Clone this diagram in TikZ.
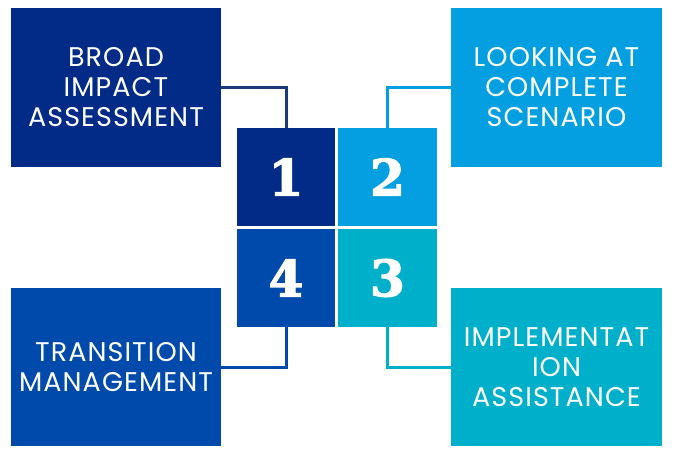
\documentclass[tikz,border=0pt]{standalone}
\usepackage{fontspec}
\newfontfamily\boxfont[LetterSpace=4]{Poppins}
\newfontfamily\numfont[FakeBold=2.5]{DejaVu Serif Bold}
\definecolor{cnavy}{HTML}{022B87}
\definecolor{csky}{HTML}{039FE0}
\definecolor{cteal}{HTML}{00AFC9}
\definecolor{cblue}{HTML}{004AAB}
\definecolor{lnavy}{HTML}{1B3A78}
\tikzset{
  bigbox/.style={draw=none, minimum width=210pt, minimum height=159pt, inner sep=0pt,
    text=white, align=center, font=\boxfont\fontsize{27}{30}\selectfont},
  numbox/.style={draw=none, minimum width=98pt, minimum height=98pt, inner sep=0pt,
    text=white, font=\numfont\fontsize{50}{50}\selectfont},
  conn/.style={line width=3pt}
}
\begin{document}
\begin{tikzpicture}[x=1pt,y=-1pt]
\useasboundingbox (0,0) rectangle (676,456);
\fill[white] (0,0) rectangle (676,456);
\node[bigbox, fill=cnavy] (b1) at (116,87.5) {BROAD\\IMPACT\\ASSESSMENT};
\node[bigbox, fill=csky, minimum width=211pt] (b2) at (556.5,87.5) {LOOKING AT\\COMPLETE\\SCENARIO};
\node[bigbox, fill=cteal, minimum width=211pt, minimum height=158pt] (b3) at (556.5,367) {IMPLEMENTAT\\ION\\ASSISTANCE};
\node[bigbox, fill=cblue, minimum height=158pt] (b4) at (116,367) {TRANSITION\\MANAGEMENT};
\node[numbox, fill=cnavy] (s1) at (286,177) {1};
\node[numbox, fill=csky, minimum width=99pt] (s2) at (387.5,177) {2};
\node[numbox, fill=cteal, minimum width=99pt] (s3) at (387.5,278) {3};
\node[numbox, fill=cblue] (s4) at (286,278) {4};
\draw[conn, lnavy] (b1.east) -| (s1.north);
\draw[conn, csky] (b2.west) -| (s2.north);
\draw[conn, cblue] (b4.east) -| (s4.south);
\draw[conn, cteal] (b3.west) -| (s3.south);
\end{tikzpicture}
\end{document}
